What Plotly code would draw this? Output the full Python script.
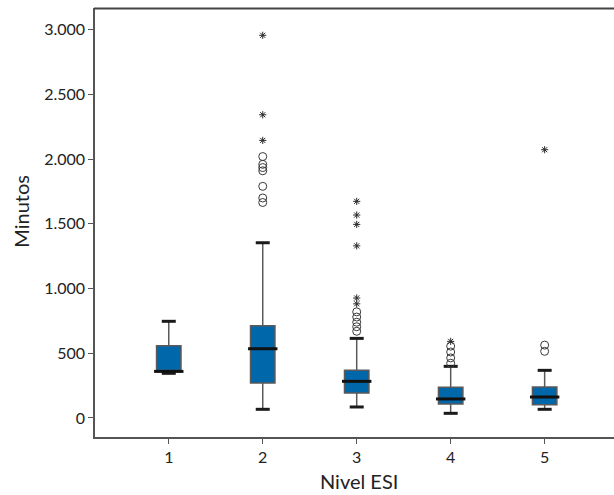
import plotly.graph_objects as go

# ---- data ----
levels = [1, 2, 3, 4, 5]
q1 = [360, 270, 193, 108, 103]
medians = [360, 535, 283, 147, 162]
q3 = [559, 713, 368, 237, 240]
lower_fence = [345, 67, 85, 36, 67]
upper_fence = [747, 1354, 615, 399, 368]

# outliers (circles) and extreme values (asterisks) per level
circles_2 = [2020, 1960, 1935, 1910, 1790, 1700, 1665]
stars_2 = [2957, 2343, 2145]
circles_3 = [820, 780, 740, 705, 670]
stars_3 = [1674, 1568, 1496, 1330, 927, 882]
circles_4 = [555, 510, 464, 423]
stars_4 = [592]
circles_5 = [563, 515]
stars_5 = [2073]

y_ticks = [0, 500, 1000, 1500, 2000, 2500, 3000]
y_tick_labels = ["0", "500", "1.000", "1.500", "2.000", "2.500", "3.000"]

# ---- figure ----
FONT = "Lato, 'Open Sans', sans-serif"
fig = go.Figure()

fig.add_trace(go.Box(
    x=levels, q1=q1, median=medians, q3=q3,
    lowerfence=lower_fence, upperfence=upper_fence,
    width=0.26, whiskerwidth=0,
    fillcolor="#0067ab",
    line=dict(color="#5a5a5a", width=1.5),
    boxpoints=False, hoverinfo="skip", showlegend=False,
))

# whisker caps
fig.add_trace(go.Scatter(
    x=levels + levels, y=lower_fence + upper_fence, mode="markers",
    marker=dict(symbol="line-ew-open", size=10, color="#1a1a1a",
                line=dict(width=3)),
    showlegend=False, hoverinfo="skip",
))
# medians
fig.add_trace(go.Scatter(
    x=levels, y=medians, mode="markers",
    marker=dict(symbol="line-ew-open", size=21, color="#111111",
                line=dict(width=3)),
    showlegend=False, hoverinfo="skip",
))

circ_x, circ_y, star_x, star_y = [], [], [], []
for lvl, c, s in [(2, circles_2, stars_2), (3, circles_3, stars_3),
                  (4, circles_4, stars_4), (5, circles_5, stars_5)]:
    circ_x += [lvl] * len(c)
    circ_y += c
    star_x += [lvl] * len(s)
    star_y += s

fig.add_trace(go.Scatter(
    x=circ_x, y=circ_y, mode="markers",
    marker=dict(symbol="circle-open", size=8, color="#3a3a3a",
                line=dict(width=1)),
    showlegend=False, hoverinfo="skip",
))
fig.add_trace(go.Scatter(
    x=star_x, y=star_y, mode="markers",
    marker=dict(symbol="asterisk-open", size=6, color="#2a2a2a",
                line=dict(width=1)),
    showlegend=False, hoverinfo="skip",
))

fig.update_layout(
    width=614, height=495,
    margin=dict(l=95, r=0, t=8, b=58),
    plot_bgcolor="white", paper_bgcolor="white",
    font=dict(family=FONT, color="#222222", size=16),
    xaxis=dict(
        range=[0.215, 5.738], tickmode="array", tickvals=levels,
        ticktext=[str(v) for v in levels],
        ticks="outside", ticklen=5, tickwidth=1.2, tickcolor="#555555",
        showline=True, linecolor="#555555", linewidth=1.5, mirror=False,
        showgrid=False, zeroline=False, automargin=False,
        tickfont=dict(size=16),
    ),
    yaxis=dict(
        range=[-147, 3168], tickmode="array", tickvals=y_ticks,
        ticktext=y_tick_labels,
        ticks="outside", ticklen=5, tickwidth=1.2, tickcolor="#555555",
        showline=True, linecolor="#555555", linewidth=1.5, mirror=False,
        showgrid=False, zeroline=False, automargin=False,
        tickfont=dict(size=16),
    ),
    shapes=[
        dict(type="line", xref="paper", yref="paper", x0=-0.002, x1=1,
             y0=0.999, y1=0.999, layer="above",
             line=dict(color="#444444", width=2)),
    ],
    annotations=[
        dict(text="Minutos", xref="paper", yref="paper",
             x=-0.1426, y=0.5275, textangle=-90, showarrow=False,
             xanchor="center", yanchor="middle", font=dict(size=20)),
        dict(text="Nivel ESI", xref="paper", yref="paper",
             x=0.5087, y=-0.1019, showarrow=False,
             xanchor="center", yanchor="middle", font=dict(size=20)),
    ],
)

fig.write_html(
    "out.html",
    config={"displayModeBar": False},
    post_script="document.body.style.margin='0';document.body.style.padding='0';",
)
